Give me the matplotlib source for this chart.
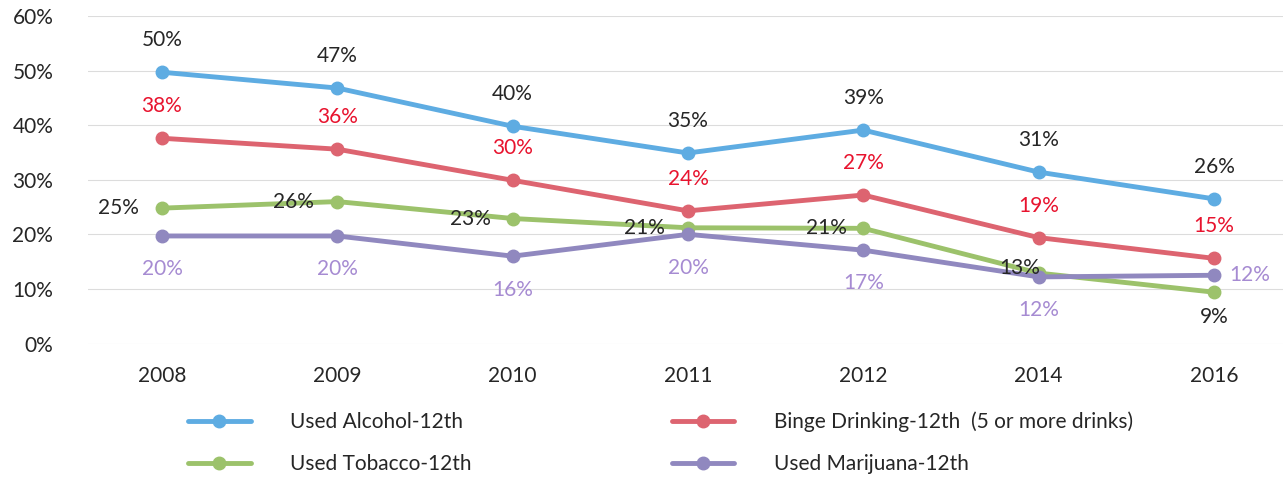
import matplotlib
matplotlib.use("agg")
import matplotlib.pyplot as plt
from matplotlib.ticker import FixedLocator

plt.rcParams['font.family'] = ['Lato', 'DejaVu Sans']

YEARS = ["2008", "2009", "2010", "2011", "2012", "2014", "2016"]

alcohol = [49.7, 46.8, 39.8, 34.9, 39.1, 31.4, 26.5]
binge = [37.6, 35.6, 29.9, 24.3, 27.2, 19.4, 15.6]
tobacco = [24.8, 26.0, 22.9, 21.2, 21.1, 12.9, 9.4]
marijuana = [19.7, 19.7, 16.0, 20.0, 17.1, 12.2, 12.5]

alcohol_lbl = [50, 47, 40, 35, 39, 31, 26]
binge_lbl = [38, 36, 30, 24, 27, 19, 15]
tobacco_lbl = [25, 26, 23, 21, 21, 13, 9]
marijuana_lbl = [20, 20, 16, 20, 17, 12, 12]

names = ["Used Alcohol-12th", "Binge Drinking-12th  (5 or more drinks)",
         "Used Tobacco-12th", "Used Marijuana-12th"]

tone = "#262626"
fs = 15

# (values, labels, line colour, label colour, per-point offsets in pt, ha)
series = [
    (alcohol, alcohol_lbl, "#5eace2", tone, [(0, 23)] * 7, ["center"] * 7),
    (binge, binge_lbl, "#dd6470", "#e8132e", [(0, 23)] * 7, ["center"] * 7),
    (tobacco, tobacco_lbl, "#9cc26b", tone,
     [(-17, 0), (-17, 0), (-16, 0), (-17, 0), (-12, 0), (1, 4), (0, -18)],
     ["right"] * 6 + ["center"]),
    (marijuana, marijuana_lbl, "#9088bf", "#a68bd2",
     [(0, -24)] * 6 + [(11, 0)], ["center"] * 6 + ["left"]),
]
legend_order = [0, 2, 1, 3]

fig = plt.figure(figsize=(12.83, 4.83), dpi=100)
ax = fig.add_axes([88 / 1283, (483 - 343.5) / 483, 1 - 88 / 1283, (343.5 - 16) / 483])

x = list(range(len(YEARS)))
lines = []
for vals, lbls, col, tcol, offs, has in series:
    ln, = ax.plot(x, vals, color=col, lw=3.5, marker="o", ms=9, solid_capstyle="round", zorder=3)
    lines.append(ln)
    for xi, v, l, off, ha in zip(x, vals, lbls, offs, has):
        ax.annotate("{}%".format(l), (xi, v), xytext=off, textcoords="offset points",
                    ha=ha, va="center", fontsize=fs, color=tcol, zorder=4)

ax.set_xlim(-(162 - 88) / 175.3, 6 + (1283 - 1214) / 175.3)
ax.set_ylim(0, 60)
ax.yaxis.set_major_locator(FixedLocator(range(0, 61, 10)))
ax.set_yticklabels(["{}%".format(v) for v in range(0, 61, 10)])
ax.set_xticks(x)
ax.set_xticklabels(YEARS)
ax.grid(axis="y", color="#dcdcdc", lw=0.8)
ax.set_axisbelow(True)
for s in ax.spines.values():
    s.set_visible(False)
ax.tick_params(length=0, labelsize=fs, colors=tone)
ax.tick_params(axis="y", pad=25)
ax.tick_params(axis="x", pad=16)

fig.legend([lines[i] for i in legend_order], [names[i] for i in legend_order],
           loc="center left", bbox_to_anchor=(188 / 1283, 1 - 443 / 483), ncol=2,
           frameon=False, fontsize=fs, handlelength=3.0, handletextpad=1.9,
           columnspacing=9.6, labelspacing=1.05, borderpad=0, borderaxespad=0,
           labelcolor=tone)

fig.savefig("out.png", dpi=100)
